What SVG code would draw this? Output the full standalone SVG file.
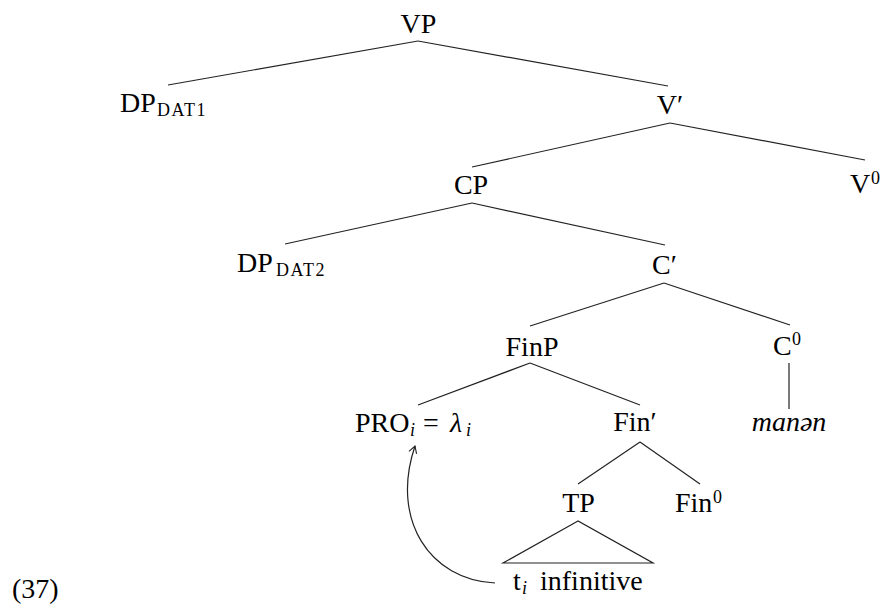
<svg xmlns="http://www.w3.org/2000/svg" width="882" height="612" viewBox="0 0 882 612">
<style>
text{font-family:"Liberation Serif","DejaVu Serif",serif;font-size:28px;fill:#000}
.m{text-anchor:middle}
.sc{font-size:18px;letter-spacing:1.5px}
.sup{font-size:18px}
.it{font-style:italic}
.c{stroke:#222;stroke-width:1.2;fill:none}
</style>
<defs>
<marker id="ah" markerWidth="10" markerHeight="10" refX="8" refY="5" orient="auto" markerUnits="userSpaceOnUse">
<path d="M1,1 L8,5 L1,9" fill="none" stroke="#222" stroke-width="1.1"/>
</marker>
</defs>
<rect width="882" height="612" fill="#fff"/>
<g id="connectors">
<line class="c" x1="418" y1="41" x2="168" y2="85"/>
<line class="c" x1="418" y1="41" x2="668" y2="86"/>
<line class="c" x1="670" y1="123" x2="472" y2="167"/>
<line class="c" x1="670" y1="123" x2="865" y2="160"/>
<line class="c" x1="472" y1="203" x2="285" y2="244"/>
<line class="c" x1="472" y1="203" x2="665" y2="245"/>
<line class="c" x1="664" y1="283" x2="530" y2="326"/>
<line class="c" x1="664" y1="283" x2="790" y2="325"/>
<line class="c" x1="789" y1="363" x2="789" y2="409"/>
<line class="c" x1="530" y1="363" x2="418" y2="405"/>
<line class="c" x1="530" y1="363" x2="640" y2="405"/>
<line class="c" x1="640" y1="442" x2="578" y2="484"/>
<line class="c" x1="640" y1="442" x2="700" y2="484"/>
<path class="c" d="M578,521 L503,563 L653,563 Z"/>
<path class="c" d="M495,583 C430,580 390,520 415,446" marker-end="url(#ah)"/>
</g>
<g id="VP"><text class="m" x="418.5" y="33">VP</text></g>
<g id="DP1"><text x="120" y="112">DP</text><text class="sc" x="157" y="116">DAT1</text></g>
<g id="Vbar"><text class="m" x="670" y="114">V′</text></g>
<g id="V0"><text x="850" y="193">V</text><text class="sup" x="871" y="184">0</text></g>
<g id="CP"><text class="m" x="471" y="194">CP</text></g>
<g id="DP2"><text x="237" y="272">DP</text><text class="sc" x="276" y="276">DAT2</text></g>
<g id="Cbar"><text class="m" x="664.5" y="274">C′</text></g>
<g id="FinP"><text class="m" x="532" y="356">FinP</text></g>
<g id="C0"><text x="773" y="355">C</text><text class="sup" x="792" y="345">0</text></g>
<g id="manen"><text class="m it" x="789" y="431">manən</text></g>
<g id="PRO"><text x="355" y="432">PRO</text><text class="sup it" x="410" y="436">i</text><text x="423" y="432">=</text><text class="it" x="450" y="432">λ</text><text class="sup it" x="466" y="436">i</text></g>
<g id="Finbar"><text class="m" x="635" y="431">Fin′</text></g>
<g id="TP"><text class="m" x="578.5" y="512">TP</text></g>
<g id="Fin0"><text x="675" y="512">Fin</text><text class="sup" x="713" y="503">0</text></g>
<g id="trace"><text x="513" y="590">t</text><text class="sup it" x="522" y="594">i</text><text x="540" y="590">infinitive</text></g>
<g id="ex"><text x="12" y="598">(37)</text></g>
</svg>
